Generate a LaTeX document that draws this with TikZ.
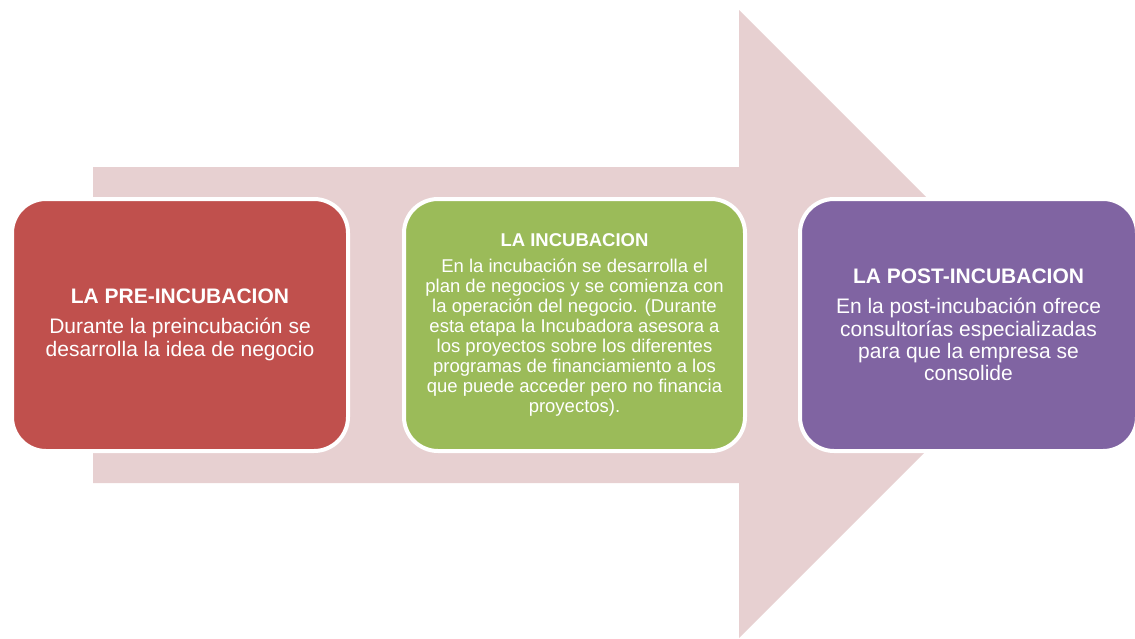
\documentclass[tikz,border=0pt]{standalone}
\usepackage{fontspec}
\setmainfont{Liberation Sans}
\definecolor{arrowpink}{HTML}{E7D0D1}
\definecolor{stagered}{HTML}{C0504D}
\definecolor{stagegreen}{HTML}{9BBB59}
\definecolor{stagepurple}{HTML}{8064A2}
\tikzset{
  stage/.style={draw=white, line width=4pt, rounded corners=34pt, inner sep=0pt,
    minimum height=252pt, text=white, align=center},
}
\begin{document}
\begin{tikzpicture}[x=1pt,y=-1pt]
\useasboundingbox (0,0) rectangle (1135,638);
\fill[arrowpink] (93,167) -- (739,167) -- (739,10) -- (1053,324) -- (739,638) -- (739,483) -- (93,483) -- cycle;
\node[stage, fill=stagered, minimum width=336pt, font=\fontsize{21}{23}\selectfont] (pre) at (180,325)
  {\textbf{LA PRE-INCUBACION}\\[7pt]Durante la preincubación se\\desarrolla la idea de negocio};
\node[stage, fill=stagegreen, minimum width=341pt, font=\fontsize{18.5}{20}\selectfont] (inc) at (574.5,325)
  {\textbf{LA INCUBACION}\\[6pt]En la incubación se desarrolla el\\plan de negocios y se comienza con\\la operación del negocio. (Durante\\esta etapa la Incubadora asesora a\\los proyectos sobre los diferentes\\programas de financiamiento a los\\que puede acceder pero no financia\\proyectos).};
\node[stage, fill=stagepurple, minimum width=337pt, font=\fontsize{21}{22.3}\selectfont] (post) at (968.5,325)
  {\textbf{LA POST-INCUBACION}\\[8pt]En la post-incubación ofrece\\consultorías especializadas\\para que la empresa se\\consolide};
\end{tikzpicture}
\end{document}
